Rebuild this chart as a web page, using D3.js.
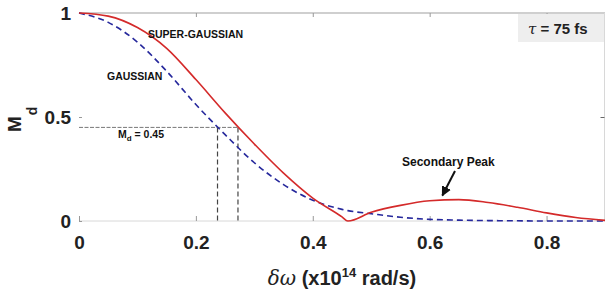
<!DOCTYPE html>
<meta charset="utf-8">
<body style="margin:0;background:#fff">
<script src="https://d3js.org/d3.v7.min.js"></script>
<svg></svg>
<script>
    var width = 606;
    var height = 295;

    // data
    var omega = [0, 0.05, 0.1, 0.15, 0.2, 0.25, 0.3, 0.35, 0.4, 0.45, 0.46, 0.5, 0.55, 0.6, 0.65, 0.7, 0.75, 0.8, 0.85, 0.9];
    var superGaussian = [1, 0.985, 0.93, 0.83, 0.68, 0.52, 0.37, 0.23, 0.11, 0.02, 0, 0.042, 0.075, 0.097, 0.103, 0.089, 0.066, 0.039, 0.017, 0.003];
    var gaussian = [1, 0.955, 0.86, 0.72, 0.56, 0.415, 0.28, 0.175, 0.10, 0.056, 0.05, 0.035, 0.018, 0.008, 0.004, 0.002, 0.001, 0, 0, 0];
    var xTicks = [0, 0.2, 0.4, 0.6, 0.8];
    var yTicks = [0, 0.5, 1];
    var mdLevel = 0.45;
    var crossings = [0.237, 0.272];  // where each curve meets Md = 0.45

    var margin = {top: 13, right: 1, bottom: 74, left: 79};

    var svg = d3.select("svg")
        .attr("width", width)
        .attr("height", height)
        .style("font-family", "'Liberation Sans', Arial, sans-serif");

    var x = d3.scaleLinear().domain([0, 0.9]).range([margin.left, width - margin.right]);
    var y = d3.scaleLinear().domain([0, 1]).range([height - margin.bottom, margin.top]);

    // frame
    svg.append("line").attr("x1", x(0)).attr("x2", x(0.9)).attr("y1", y(1)).attr("y2", y(1))
        .attr("stroke", "#a0a0a0").attr("stroke-width", 1.2);
    svg.append("line").attr("x1", x(0)).attr("x2", x(0.9)).attr("y1", y(0)).attr("y2", y(0))
        .attr("stroke", "#d8d8d8").attr("stroke-width", 1);
    svg.append("line").attr("x1", x(0.9) - 0.5).attr("x2", x(0.9) - 0.5).attr("y1", y(1)).attr("y2", y(0))
        .attr("stroke", "#d8d8d8").attr("stroke-width", 1);

    // axes (ticks inward)
    var bottomAxis = svg.append("g").attr("transform", "translate(0," + y(0) + ")")
        .call(d3.axisBottom(x).tickValues(xTicks).tickSizeInner(-5).tickSizeOuter(0).tickPadding(15)
            .tickFormat(function(d){ return d === 0 ? "0" : d3.format(".1f")(d); }));
    bottomAxis.select(".domain").remove();
    bottomAxis.selectAll(".tick line").attr("stroke", "#999");
    bottomAxis.selectAll("text").attr("font-size", 19).attr("font-weight", "bold").attr("fill", "#222");

    var topAxis = svg.append("g").attr("transform", "translate(0," + y(1) + ")")
        .call(d3.axisTop(x).tickValues(xTicks.slice(1)).tickSizeInner(-4).tickSizeOuter(0).tickFormat(""));
    topAxis.select(".domain").remove();
    topAxis.selectAll(".tick line").attr("stroke", "#999");

    var leftAxis = svg.append("g").attr("transform", "translate(" + x(0) + ",0)")
        .call(d3.axisLeft(y).tickValues(yTicks).tickSizeInner(-3).tickSizeOuter(0).tickPadding(8)
            .tickFormat(function(d){ return d === 0.5 ? "0.5" : d3.format("d")(d); }));
    leftAxis.select(".domain").remove();
    leftAxis.selectAll(".tick line").attr("stroke", "#999");
    leftAxis.selectAll("text").attr("font-size", 19).attr("font-weight", "bold").attr("fill", "#222");

    var rightAxis = svg.append("g").attr("transform", "translate(" + (x(0.9) - 0.5) + ",0)")
        .call(d3.axisRight(y).tickValues([0.5]).tickSizeInner(-4).tickSizeOuter(0).tickFormat(""));
    rightAxis.select(".domain").remove();
    rightAxis.selectAll(".tick line").attr("stroke", "#666");

    // Md = 0.45 guides
    svg.append("line").attr("x1", x(0)).attr("x2", x(crossings[1])).attr("y1", y(mdLevel)).attr("y2", y(mdLevel))
        .attr("stroke", "#777").attr("stroke-width", 1).attr("stroke-dasharray", "4,1.5");
    svg.selectAll(".vguide").data(crossings).enter().append("line")
        .attr("x1", function(d){ return x(d); }).attr("x2", function(d){ return x(d); })
        .attr("y1", y(mdLevel)).attr("y2", y(0))
        .attr("stroke", "#444").attr("stroke-width", 1.2).attr("stroke-dasharray", "5,3");

    // curves
    var curve = d3.line().curve(d3.curveMonotoneX)
        .x(function(d, i){ return x(omega[i]); }).y(function(d){ return y(d); });

    svg.append("path").datum(gaussian).attr("d", curve)
        .attr("fill", "none").attr("stroke", "#26289c").attr("stroke-width", 1.6).attr("stroke-dasharray", "6,4");
    svg.append("path").datum(superGaussian).attr("d", curve)
        .attr("fill", "none").attr("stroke", "#d42a2a").attr("stroke-width", 1.6);

    // labels
    svg.append("text").attr("x", 148).attr("y", 38).attr("font-size", 10.5).attr("font-weight", "bold")
        .attr("fill", "#111").text("SUPER-GAUSSIAN");
    svg.append("text").attr("x", 107).attr("y", 80).attr("font-size", 10.5).attr("font-weight", "bold")
        .attr("fill", "#111").text("GAUSSIAN");
    var md = svg.append("text").attr("x", 118).attr("y", 138).attr("font-size", 10.5).attr("font-weight", "bold").attr("fill", "#111");
    md.append("tspan").text("M");
    md.append("tspan").attr("font-size", 8).attr("dy", 3).text("d");
    md.append("tspan").attr("dy", -3).text(" = 0.45");

    svg.append("text").attr("x", 402).attr("y", 166).attr("font-size", 12).attr("font-weight", "bold")
        .attr("fill", "#111").text("Secondary Peak");

    // arrow
    svg.append("defs").append("marker").attr("id", "arrow")
        .attr("viewBox", "0 0 10 10").attr("refX", 9).attr("refY", 5)
        .attr("markerWidth", 5).attr("markerHeight", 5).attr("orient", "auto")
        .append("path").attr("d", "M0,0L10,5L0,10z").attr("fill", "#111");
    svg.append("line").attr("x1", 455).attr("y1", 171).attr("x2", x(0.62) + 1).attr("y2", y(0.103) - 4)
        .attr("stroke", "#111").attr("stroke-width", 2).attr("marker-end", "url(#arrow)");

    // tau box
    svg.append("rect").attr("x", 518).attr("y", y(1) + 1).attr("width", x(0.9) - 519).attr("height", 28)
        .attr("fill", "#eeeeee");
    var tau = svg.append("text").attr("x", 528).attr("y", 34).attr("font-size", 15).attr("font-weight", "bold").attr("fill", "#222");
    tau.append("tspan").attr("font-style", "italic").attr("font-family", "'DejaVu Serif', serif").attr("font-weight", "normal").text("τ");
    tau.append("tspan").text(" = 75 fs");

    // axis titles
    var xt = svg.append("text").attr("x", x(0.45)).attr("y", 285).attr("text-anchor", "middle")
        .attr("font-size", 20).attr("font-weight", "bold").attr("fill", "#222");
    xt.append("tspan").attr("font-style", "italic").attr("font-family", "'DejaVu Serif', serif").attr("font-weight", "normal").text("δω");
    xt.append("tspan").text(" (x10");
    xt.append("tspan").attr("font-size", 13).attr("dy", -8).text("14");
    xt.append("tspan").attr("dy", 8).text(" rad/s)");

    var yt = svg.append("text").attr("transform", "translate(21,132) rotate(-90)")
        .attr("font-size", 19).attr("font-weight", "bold").attr("fill", "#222");
    yt.append("tspan").text("M");
    yt.append("tspan").attr("font-size", 14).attr("dy", 16).attr("dx", 1).text("d");
</script>
